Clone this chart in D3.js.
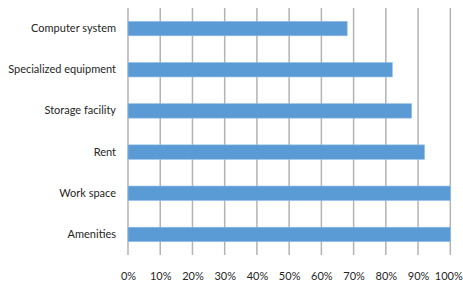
<!DOCTYPE html>
<html><head><meta charset="utf-8">
<script src="https://cdn.jsdelivr.net/npm/d3@7"></script>
<style>html,body{margin:0;padding:0;background:#fff;}</style>
</head><body><svg id="c" width="463" height="285"></svg>
<script>
const categories = ["Computer system","Specialized equipment","Storage facility","Rent","Work space","Amenities"];
const values = [0.68, 0.82, 0.88, 0.92, 1.00, 1.00];
const tickValues = [0,0.1,0.2,0.3,0.4,0.5,0.6,0.7,0.8,0.9,1.0];

const svg = d3.select("#c");
const x = d3.scaleLinear().domain([0,1]).range([128,450.3]);
const y = d3.scaleBand().domain(categories).range([8,255]).paddingInner(0.65).paddingOuter(0.325);
const font = "Lato, 'Liberation Sans', sans-serif";

svg.append("g").selectAll("line").data(tickValues).join("line")
  .attr("x1", d=>x(d)).attr("x2", d=>x(d)).attr("y1",8).attr("y2",255)
  .attr("stroke","#b3b3b3").attr("stroke-width",1.5);

svg.append("g").selectAll("rect").data(categories).join("rect")
  .attr("x", x(0)).attr("y", d=>y(d))
  .attr("width", (d,i)=>x(values[i])-x(0)).attr("height", y.bandwidth())
  .attr("fill","#5b9bd5").attr("stroke","#8fbbe6").attr("stroke-width",0.6);

const ax = d3.axisBottom(x).tickValues(tickValues).tickFormat(d3.format(".0%")).tickSize(0).tickPadding(0);
const gx = svg.append("g").attr("transform","translate(0,281)").call(ax);
gx.select(".domain").remove();
gx.selectAll("text").attr("font-family",font).attr("font-size","11px").attr("fill","#262626").attr("dy","-0.1em");
gx.selectAll("text").filter(d=>d===1).attr("dx","-2px");

const ay = d3.axisLeft(y).tickSize(0).tickPadding(0);
const gy = svg.append("g").attr("transform","translate(116,0)").call(ay);
gy.select(".domain").remove();
gy.selectAll("text").attr("font-family",font).attr("font-size","11px").attr("fill","#262626");
</script></body></html>
